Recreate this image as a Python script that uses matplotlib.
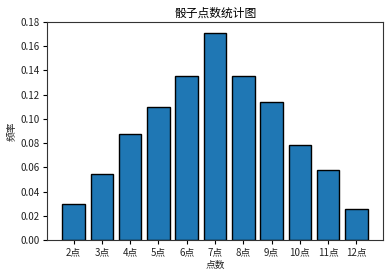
import matplotlib
matplotlib.use("Agg")
import matplotlib.pyplot as plt

plt.rcParams['font.family'] = ['Noto Sans CJK SC', 'DejaVu Sans']
plt.rcParams['axes.unicode_minus'] = False

points = [2, 3, 4, 5, 6, 7, 8, 9, 10, 11, 12]
tick_labels = ["2点", "3点", "4点", "5点", "6点", "7点", "8点", "9点", "10点", "11点", "12点"]
freq = [0.0295, 0.0542, 0.0873, 0.1096, 0.1352, 0.1707, 0.1352, 0.1137, 0.0782, 0.0575, 0.0253]

fig = plt.figure(figsize=(3.92, 2.76), dpi=100)
ax = fig.add_axes([0.12, 0.1304, 0.857, 0.79])
ax.bar(points, freq, width=0.8, color="#1f77b4", edgecolor="black", linewidth=1)
ax.set_ylim(0, 0.18)
ax.set_yticks([0, 0.02, 0.04, 0.06, 0.08, 0.10, 0.12, 0.14, 0.16, 0.18])
ax.set_yticklabels(["%.2f" % v for v in ax.get_yticks()])
ax.set_xticks(points)
ax.set_xticklabels(tick_labels)
ax.tick_params(labelsize=7, length=3, width=0.8, pad=2, labelcolor="#222222")
ax.set_xlabel("点数", fontsize=7, labelpad=2, color="#222222")
ax.set_ylabel("频率", fontsize=7, labelpad=3, color="#222222")
ax.set_title("骰子点数统计图", fontsize=8.5, pad=4)
for s in ax.spines.values():
    s.set_linewidth(0.8)
    s.set_color("#333333")

fig.savefig("out.png", dpi=100)
